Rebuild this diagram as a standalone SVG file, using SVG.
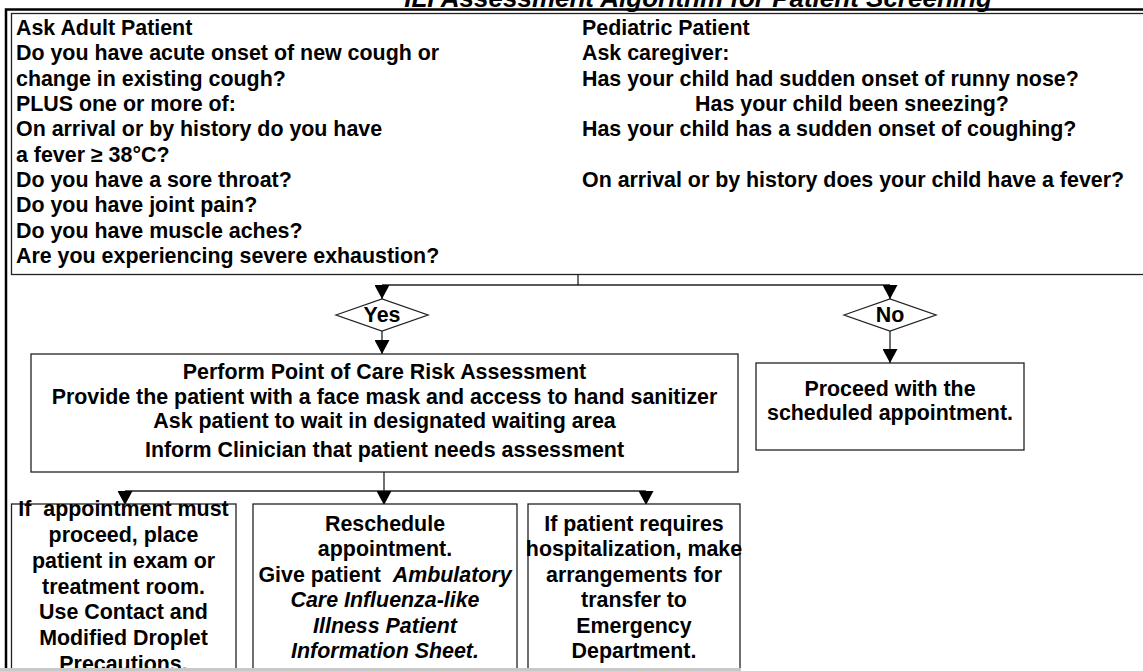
<svg xmlns="http://www.w3.org/2000/svg" width="1143" height="671" viewBox="0 0 1143 671">
<style>
.t{font-family:"Liberation Sans",Arial,sans-serif;font-weight:bold;font-size:21.4px;fill:#000}
.m{text-anchor:middle}
.i{font-style:italic}
.box{fill:#fff;stroke:#222;stroke-width:1.3}
.conn{fill:none;stroke:#222;stroke-width:1.3}
.frame{fill:none;stroke:#000}
</style>
<defs>
<marker id="arr" viewBox="0 0 14 15" refX="14" refY="7.5" markerWidth="14" markerHeight="15" markerUnits="userSpaceOnUse" orient="auto">
<path d="M0,0 L14,7.5 L0,15 z" fill="#000"/>
</marker>
</defs>
<rect width="1143" height="671" fill="#fff"/>
<text class="t i m" x="698" y="6.5" style="font-size:26px">ILI Assessment Algorithm for Patient Screening</text>
<g id="frame">
<path class="frame" d="M6,671 V9.5 H1150" stroke-width="2.5"/>
</g>
<g id="questions">
<rect class="box" x="11.5" y="13.5" width="1150" height="261" stroke="#000"/>
<text class="t" x="16" y="35">Ask Adult Patient</text>
<text class="t" x="16" y="60.3">Do you have acute onset of new cough or</text>
<text class="t" x="16" y="85.7">change in existing cough?</text>
<text class="t" x="16" y="111">PLUS one or more of:</text>
<text class="t" x="16" y="136.3">On arrival or by history do you have</text>
<text class="t" x="16" y="161.7">a fever ≥ 38°C?</text>
<text class="t" x="16" y="187">Do you have a sore throat?</text>
<text class="t" x="16" y="212.3">Do you have joint pain?</text>
<text class="t" x="16" y="237.7">Do you have muscle aches?</text>
<text class="t" x="16" y="263">Are you experiencing severe exhaustion?</text>
<text class="t" x="582" y="35">Pediatric Patient</text>
<text class="t" x="582" y="60.3">Ask caregiver:</text>
<text class="t" x="582" y="85.7">Has your child had sudden onset of runny nose?</text>
<text class="t m" x="852" y="111">Has your child been sneezing?</text>
<text class="t" x="582" y="136.3">Has your child has a sudden onset of coughing?</text>
<text class="t" x="582" y="187">On arrival or by history does your child have a fever?</text>
</g>
<g id="connectors">
<path class="conn" d="M578,274.5 V285"/>
<path class="conn" d="M382,285 H890" stroke="#555" stroke-width="2"/>
<path class="conn" d="M382,285 V299" marker-end="url(#arr)"/>
<path class="conn" d="M890,285 V299" marker-end="url(#arr)"/>
<path class="conn" d="M382,331 V354" marker-end="url(#arr)"/>
<path class="conn" d="M890,331 V363" marker-end="url(#arr)"/>
<path class="conn" d="M384,472 V491"/>
<path class="conn" d="M125,491 H646"/>
<path class="conn" d="M125,491 V505" marker-end="url(#arr)"/>
<path class="conn" d="M384,491 V505" marker-end="url(#arr)"/>
<path class="conn" d="M646,491 V505" marker-end="url(#arr)"/>
</g>
<g id="yes">
<path class="box" d="M336,315 L382,299 L428,315 L382,331 z"/>
<text class="t m" x="382" y="321.5">Yes</text>
</g>
<g id="no">
<path class="box" d="M844,315 L890,299 L936,315 L890,331 z"/>
<text class="t m" x="890" y="321.5">No</text>
</g>
<g id="assess">
<rect class="box" x="31" y="354" width="707" height="118"/>
<text class="t m" x="384.5" y="379">Perform Point of Care Risk Assessment</text>
<text class="t m" x="384.5" y="404">Provide the patient with a face mask and access to hand sanitizer</text>
<text class="t m" x="384.5" y="428">Ask patient to wait in designated waiting area</text>
<text class="t m" x="384.5" y="457">Inform Clinician that patient needs assessment</text>
</g>
<g id="proceed">
<rect class="box" x="756" y="363" width="268" height="87"/>
<text class="t m" x="890" y="396">Proceed with the</text>
<text class="t m" x="890" y="420">scheduled appointment.</text>
</g>
<g id="exam">
<rect class="box" x="11.5" y="504" width="224.5" height="200"/>
<text class="t m" x="123.5" y="516" xml:space="preserve">If  appointment must</text>
<text class="t m" x="123.5" y="542">proceed, place</text>
<text class="t m" x="123.5" y="568">patient in exam or</text>
<text class="t m" x="123.5" y="594">treatment room.</text>
<text class="t m" x="123.5" y="619">Use Contact and</text>
<text class="t m" x="123.5" y="645">Modified Droplet</text>
<text class="t m" x="123.5" y="671">Precautions.</text>
</g>
<g id="reschedule">
<rect class="box" x="253" y="504" width="264" height="200"/>
<text class="t m" x="385" y="531">Reschedule</text>
<text class="t m" x="385" y="556">appointment.</text>
<text class="t m" x="385" y="582" xml:space="preserve">Give patient  <tspan class="i">Ambulatory</tspan></text>
<text class="t m i" x="385" y="607">Care Influenza-like</text>
<text class="t m i" x="385" y="633">Illness Patient</text>
<text class="t m i" x="385" y="658">Information Sheet.</text>
</g>
<g id="transfer">
<rect class="box" x="528" y="504" width="212" height="200"/>
<text class="t m" x="634" y="531">If patient requires</text>
<text class="t m" x="634" y="556">hospitalization, make</text>
<text class="t m" x="634" y="582">arrangements for</text>
<text class="t m" x="634" y="607">transfer to</text>
<text class="t m" x="634" y="633">Emergency</text>
<text class="t m" x="634" y="658">Department.</text>
</g>
<rect x="0" y="668" width="741" height="3" fill="#c8c8c8"/>
</svg>
